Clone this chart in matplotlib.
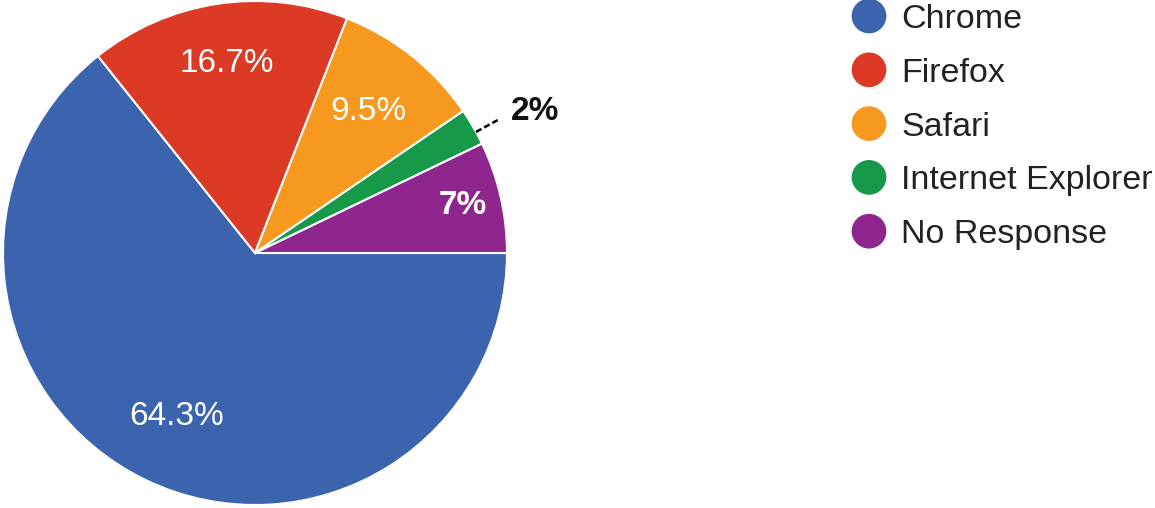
import numpy as np
import matplotlib.pyplot as plt

plt.rcParams['font.family'] = ['Liberation Sans', 'DejaVu Sans']

# survey responses (42 total)
browsers = ['Chrome', 'Firefox', 'Safari', 'Internet Explorer', 'No Response']
counts = [27, 7, 4, 1, 3]
pct_labels = ['64.3%', '16.7%', '9.5%', '2%', '7%']
colors = ['#3c64ae', '#dc3a24', '#f7991f', '#17994a', '#8f268d']

# label placement / styling
label_r = [0.72, 0.76, 0.72, None, 0.845]
label_bold = [False, False, False, True, True]

W, H = 1155, 508
fig = plt.figure(figsize=(W / 100, H / 100), dpi=100)

# pie, centre (255, 253) px, radius 252 px
R = 252
ax = fig.add_axes([(255 - R) / W, (H - 253 - R) / H, 2 * R / W, 2 * R / H])
wedges, _ = ax.pie(counts, colors=colors, startangle=0, counterclock=False,
                   wedgeprops=dict(edgecolor='white', linewidth=1.5))
ax.set_xlim(-1, 1)
ax.set_ylim(-1, 1)
ax.set_aspect('equal')
ax.axis('off')

for w, lab, r, bold in zip(wedges, pct_labels, label_r, label_bold):
    mid = np.deg2rad((w.theta1 + w.theta2) / 2)
    weight = 'bold' if bold else 'normal'
    if r is None:
        # small slice: label outside with dashed leader
        a = np.deg2rad(w.theta1 + 0.35 * (w.theta2 - w.theta1))
        ax.plot([np.cos(a), 1.11 * np.cos(a)], [np.sin(a), 1.11 * np.sin(a)],
                color='black', lw=1.8, ls=(0, (2.5, 1.2)), clip_on=False)
        ax.text(1.11 * np.cos(a) + 0.04, 1.11 * np.sin(a) - 0.005, lab,
                fontsize=24, fontweight=weight, color='#111111',
                ha='left', va='baseline', clip_on=False)
    else:
        ax.text(r * np.cos(mid), r * np.sin(mid), lab, fontsize=24,
                fontweight=weight, color='white', ha='center', va='center')

# legend
lax = fig.add_axes([0, 0, 1, 1])
lax.set_xlim(0, W)
lax.set_ylim(H, 0)
lax.axis('off')
rows = 16 + 53.8 * np.arange(len(browsers))
lax.scatter(np.full(len(browsers), 869), rows, s=25 ** 2, c=colors, linewidths=0)
for y, name in zip(rows, browsers):
    lax.text(901, y + 12, name, fontsize=24.5, color='#222222',
             ha='left', va='baseline')

fig.savefig('out.png', dpi=100)
